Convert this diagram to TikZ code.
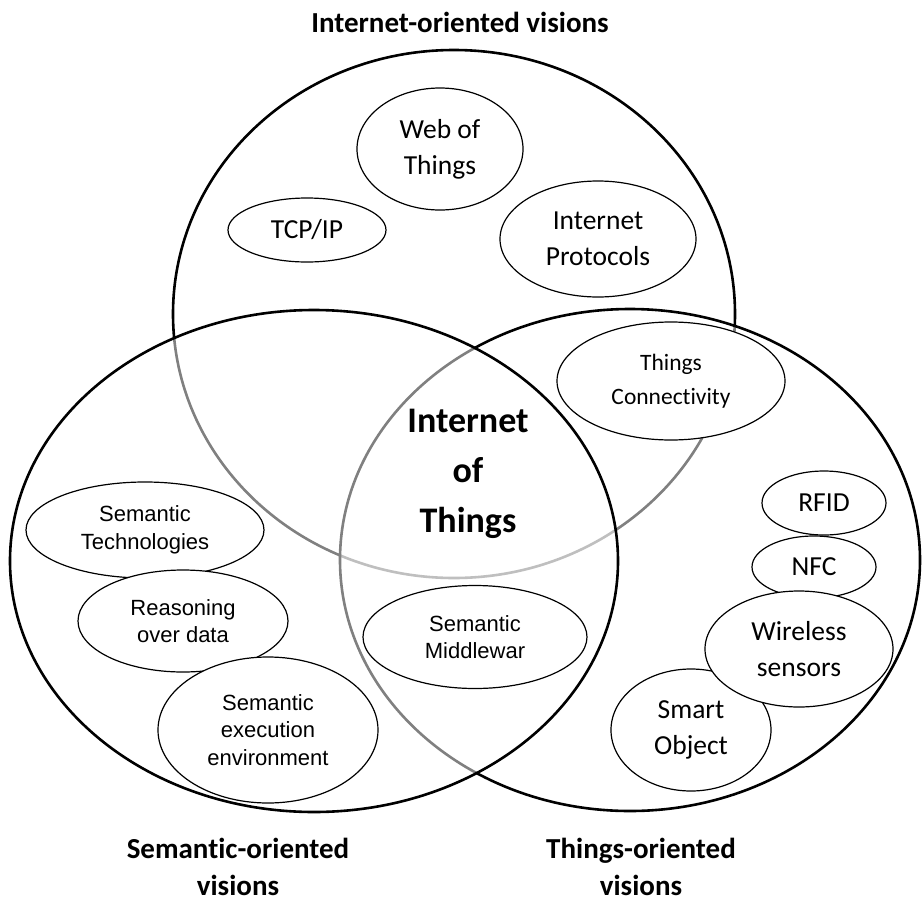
\documentclass[tikz,border=0pt]{standalone}
\usepackage{fontspec}
\newfontfamily\calibfont[Ligatures=NoCommon]{Carlito}
\newfontfamily\arialfont{Liberation Sans}
\usetikzlibrary{shapes.geometric, positioning}
\tikzstyle{vision}		=[line width=2.6pt, draw=black]
\tikzstyle{veil}		=[fill=white, fill opacity=0.5]
\tikzstyle{topic}		=[ellipse, draw=black, line width=1.2pt, fill=white, inner sep=0pt, align=center, text=black]
\tikzstyle{calib}		=[font=\calibfont\fontsize{27.5}{36}\selectfont]
\tikzstyle{calibsmall}	=[font=\calibfont\fontsize{23.5}{34}\selectfont]
\tikzstyle{arial}		=[font=\arialfont\fontsize{22}{27.5}\selectfont]
\tikzstyle{heading}		=[font=\calibfont\bfseries\fontsize{29}{37}\selectfont, align=center, inner sep=1pt]

\begin{document}
\begin{tikzpicture}[x=1pt, y=-1pt]

	\useasboundingbox (0, 0) rectangle (922, 903);

	% the three visions
	\draw[vision]		(454, 314) ellipse [x radius=281pt, y radius=264pt];
	\draw[vision, veil]	(630, 560) ellipse [x radius=290pt, y radius=251pt];
	\draw[vision, veil]	(314, 561) ellipse [x radius=304pt, y radius=251pt];

	\node (InternetVision)	[heading]	at (460, 22)	{Internet-oriented visions};
	\node (SemanticVision)	[heading]	at (238, 867)	{Semantic-oriented\\visions};
	\node (ThingsVision)	[heading]	at (641, 867)	{Things-oriented\\visions};

	\node (IoT) [font=\calibfont\bfseries\fontsize{36}{50}\selectfont, align=center] at (468, 474) {Internet\\of\\Things};

	% internet side
	\node (WebThings)			[topic, calib, minimum width=166pt, minimum height=122pt]	at (440, 149)	{Web of\\Things};
	\node (TcpIp)				[topic, calib, minimum width=158pt, minimum height=64pt]	at (307, 230)	{TCP/IP};
	\node (InternetProtocols)	[topic, calib, minimum width=196pt, minimum height=116pt]	at (598, 239)	{Internet\\Protocols};
	\node (ThingsConnectivity)	[topic, calibsmall, minimum width=228pt, minimum height=118pt]	at (671, 381)	{Things\\Connectivity};

	% semantic side
	\node (SemanticTech)	[topic, arial, minimum width=238pt, minimum height=96pt]	at (145, 530)	{Semantic\\Technologies};
	\node (Reasoning)		[topic, arial, minimum width=210pt, minimum height=102pt]	at (183, 621)	{Reasoning\\over data};
	\node (ExecutionEnv)	[topic, arial, minimum width=220pt, minimum height=146pt]	at (268, 730)	{Semantic\\execution\\environment};
	\node (Middleware)		[topic, arial, minimum width=224pt, minimum height=103pt]	at (475, 637)	{Semantic\\Middlewar};

	% things side
	\node (Rfid)			[topic, calib, minimum width=124pt, minimum height=64pt]	at (824, 503)	{RFID};
	\node (Nfc)				[topic, calib, minimum width=124pt, minimum height=62pt]	at (814, 567)	{NFC};
	\node (SmartObject)		[topic, calib, minimum width=160pt, minimum height=122pt]	at (691, 730)	{Smart\\Object};
	\node (WirelessSensors)	[topic, calib, minimum width=188pt, minimum height=116pt]	at (799, 649)	{Wireless\\sensors};

\end{tikzpicture}
\end{document}
